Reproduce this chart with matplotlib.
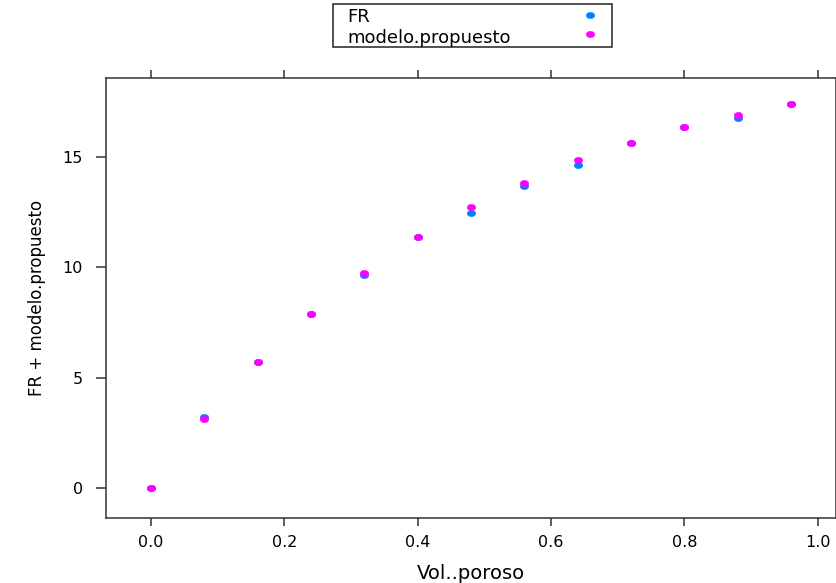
import matplotlib
matplotlib.use("Agg")
import matplotlib.pyplot as plt
from matplotlib.path import Path
from matplotlib.transforms import Affine2D
from matplotlib.patches import Rectangle
from matplotlib.lines import Line2D

# Data
vol_poroso = [0.00, 0.08, 0.16, 0.24, 0.32, 0.40, 0.48, 0.56, 0.64, 0.72, 0.80, 0.88, 0.96]
fr = [0.00, 3.21, 5.69, 7.90, 9.67, 11.36, 12.44, 13.68, 14.62, 15.64, 16.35, 16.74, 17.38]
modelo_propuesto = [0.00, 3.11, 5.69, 7.90, 9.76, 11.36, 12.71, 13.83, 14.84, 15.64, 16.35, 16.91, 17.38]
series_names = ["FR", "modelo.propuesto"]
series_colors = ["#0080ff", "#ff00ff"]
x_ticks = [0.0, 0.2, 0.4, 0.6, 0.8, 1.0]
x_tick_labels = ["0.0", "0.2", "0.4", "0.6", "0.8", "1.0"]
y_ticks = [0, 5, 10, 15]
y_tick_labels = ["0", "5", "10", "15"]

plt.rcParams["font.family"] = ["DejaVu Sans"]

W, H = 837, 583
fig = plt.figure(figsize=(W / 100, H / 100), dpi=100)
fig.patch.set_facecolor("white")

# panel placement in pixels (left, top, right, bottom)
pl, pt, pr, pb = 106, 78, 836, 517.5
ax = fig.add_axes([pl / W, 1 - pb / H, (pr - pl) / W, (pb - pt) / H])

# slightly wide oval dot
dot = Path.unit_circle().transformed(Affine2D().scale(1.35, 1.0))

series = [fr, modelo_propuesto]
for vals, col in zip(series, series_colors):
    ax.plot(vol_poroso, vals, linestyle="none", marker=dot, markersize=6.2,
            markerfacecolor=col, markeredgecolor=col, markeredgewidth=0.3)

# lattice-style 7% padding on x
def padded(lo, hi, f=0.07):
    d = (hi - lo) * f
    return lo - d, hi + d

ax.set_xlim(*padded(min(vol_poroso), max(vol_poroso)))
ax.set_ylim(-1.33, 18.57)

ax.set_xticks(x_ticks)
ax.set_xticklabels(x_tick_labels)
ax.set_yticks(y_ticks)
ax.set_yticklabels(y_tick_labels)

spine_col = "#333333"
for s in ax.spines.values():
    s.set_color(spine_col)
    s.set_linewidth(1.1)

ax.tick_params(axis="x", which="both", direction="out", length=5.5, width=1.1,
               color=spine_col, top=True, labeltop=False, bottom=True,
               pad=7, labelsize=11.5, labelcolor="black")
ax.tick_params(axis="y", which="both", direction="out", length=7.5, width=1.1,
               color=spine_col, left=True, right=True, labelright=False,
               pad=9, labelsize=11.5, labelcolor="black")

ax.set_xlabel("Vol..poroso", fontsize=14, labelpad=10)
ax.set_ylabel("FR + modelo.propuesto", fontsize=12, labelpad=12)

# key box at the top
bx0, by0, bx1, by1 = 333, 3.5, 611.5, 46.5
fig.add_artist(Rectangle((bx0 / W, 1 - by1 / H), (bx1 - bx0) / W, (by1 - by0) / H,
                         transform=fig.transFigure, facecolor="white",
                         edgecolor="#222222", linewidth=1.1))
row_baseline = [22.5, 43.0]
row_marker = [14.5, 34.0]
for name, col, yb, ym in zip(series_names, series_colors, row_baseline, row_marker):
    fig.text(347 / W, 1 - yb / H, name, fontsize=13, ha="left", va="baseline",
             color="black")
    fig.add_artist(Line2D([589.5 / W], [1 - ym / H], transform=fig.transFigure,
                          linestyle="none", marker=dot, markersize=6.2,
                          markerfacecolor=col, markeredgecolor=col,
                          markeredgewidth=0.3))

fig.savefig("out.png", dpi=100, facecolor="white")
